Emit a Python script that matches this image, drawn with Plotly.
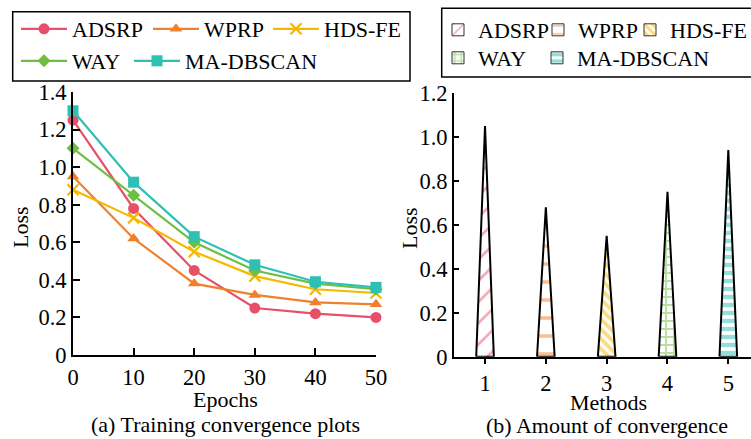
import plotly.graph_objects as go

# ---------------- data ----------------
epochs = [0, 10, 20, 30, 40, 50]
series_names = ["ADSRP", "WPRP", "HDS-FE", "WAY", "MA-DBSCAN"]
adsrp = [1.25, 0.78, 0.45, 0.25, 0.22, 0.20]
wprp = [0.95, 0.62, 0.38, 0.32, 0.28, 0.27]
hdsfe = [0.88, 0.73, 0.55, 0.42, 0.35, 0.33]
way = [1.10, 0.85, 0.60, 0.45, 0.38, 0.35]
madbscan = [1.30, 0.92, 0.63, 0.48, 0.39, 0.36]

method_ids = [1, 2, 3, 4, 5]
convergence = [1.05, 0.68, 0.55, 0.75, 0.94]

left_yticks = [0, 0.2, 0.4, 0.6, 0.8, 1.0, 1.2, 1.4]
left_yticklabels = ["0", "0.2", "0.4", "0.6", "0.8", "1.0", "1.2", "1.4"]
right_yticks = [0, 0.2, 0.4, 0.6, 0.8, 1.0, 1.2]
right_yticklabels = ["0", "0.2", "0.4", "0.6", "0.8", "1.0", "1.2"]

# ---------------- styles ----------------
W, H = 751, 439
FONT = "Liberation Serif"
FS = 22
TFS = 22.5
colors = ["#E8506A", "#F0802E", "#F5B800", "#6FBE44", "#2EC0B3"]
symbols = ["circle", "triangle-up", "x-thin", "diamond", "square"]
msizes = [11, 11, 11, 10, 11]
patterns = [
    dict(shape="/", size=15, solidity=0.18),
    dict(shape="-", size=18, solidity=0.2),
    dict(shape="\\", size=7, solidity=0.55),
    dict(shape="+", size=8, solidity=0.42),
    dict(shape="-", size=8, solidity=0.55),
]
half_w = 0.145

def px(x):
    return x / W

def py(y):
    return 1 - y / H

fig = go.Figure()

# left legend item positions (line start x, row center y)
left_leg_pos = [(21, 29), (153, 29), (273, 29), (21, 61), (134, 61)]
# right legend item positions (text start x, row center y)
right_leg_pos = [(478, 30), (578, 30), (670, 30), (478, 58), (577, 58)]

all_series = [adsrp, wprp, hdsfe, way, madbscan]
for i, (name, vals) in enumerate(zip(series_names, all_series)):
    mk = dict(symbol=symbols[i], size=msizes[i], color=colors[i])
    if symbols[i] == "x-thin":
        mk["line"] = dict(width=2.2, color=colors[i])
    fig.add_trace(go.Scatter(
        x=epochs, y=vals, name=name, mode="lines+markers",
        line=dict(color=colors[i], width=2.2), marker=mk,
        cliponaxis=False, xaxis="x", yaxis="y",
        legend="legend" if i == 0 else f"legend{i+1}",
    ))

# triangles for right chart
for i, (m, v) in enumerate(zip(method_ids, convergence)):
    pat = dict(patterns[i])
    pat.update(fgcolor=colors[i], bgcolor="white")
    fig.add_trace(go.Scatter(
        x=[m - half_w, m, m + half_w, m - half_w], y=[0, v, 0, 0],
        mode="lines", fill="toself", fillcolor="white", fillpattern=pat,
        line=dict(color="black", width=2), showlegend=False,
        xaxis="x2", yaxis="y2", hoverinfo="skip",
    ))

# legend proxies for right chart
for i, name in enumerate(series_names):
    pat = dict(patterns[i])
    pat.update(fgcolor=colors[i], bgcolor="white")
    if pat["size"] > 10:
        pat["size"] = 10
    fig.add_trace(go.Bar(
        x=[0], y=[0], name=name, xaxis="x2", yaxis="y2",
        marker=dict(color="white", pattern=pat, line=dict(color="#333333", width=1)),
        legend=f"legend{i+6}", hoverinfo="skip",
    ))

tickfont = dict(family=FONT, size=TFS, color="black")
layout = dict(
    width=W, height=H, autosize=False,
    margin=dict(l=0, r=0, t=0, b=0, autoexpand=False),
    paper_bgcolor="white", plot_bgcolor="white",
    font=dict(family=FONT, size=FS, color="black"),
    xaxis=dict(domain=[px(73), px(376)], range=[0, 50], tickvals=epochs,
               ticks="inside", ticklen=7, tickwidth=1.5, tickcolor="black",
               showline=True, linecolor="black", linewidth=2, showgrid=False,
               zeroline=False, anchor="y", ticklabelstandoff=1, automargin=False,
               tickfont=tickfont),
    yaxis=dict(domain=[py(355), py(92)], range=[0, 1.4], tickvals=left_yticks,
               ticktext=left_yticklabels, ticks="inside", ticklen=7, tickwidth=1.5,
               tickcolor="black", showline=True, linecolor="black", linewidth=2,
               showgrid=False, zeroline=False, anchor="x", automargin=False,
               tickfont=tickfont),
    xaxis2=dict(domain=[px(454), 1.0], range=[0.49, 5.373], tickvals=method_ids,
                ticks="outside", ticklen=5, tickwidth=1.5, tickcolor="black",
                showline=True, linecolor="black", linewidth=2, showgrid=False,
                zeroline=False, anchor="y2", automargin=False, tickfont=tickfont),
    yaxis2=dict(domain=[py(356.7), py(93)], range=[0, 1.2], tickvals=right_yticks,
                ticktext=right_yticklabels, ticks="inside", ticklen=5, tickwidth=1.5,
                tickcolor="black", showline=True, linecolor="black", linewidth=2,
                showgrid=False, zeroline=False, anchor="x2", automargin=False,
                tickfont=tickfont),
    bargap=0.5,
)

for i in range(5):
    key = "legend" if i == 0 else f"legend{i+1}"
    lx, ly = left_leg_pos[i]
    layout[key] = dict(x=px(lx - 5), y=py(ly), xanchor="left", yanchor="middle",
                       orientation="h", bgcolor="rgba(0,0,0,0)", borderwidth=0,
                       itemwidth=46, font=dict(family=FONT, size=FS, color="black"))
for i in range(5):
    key = f"legend{i+6}"
    lx, ly = right_leg_pos[i]
    layout[key] = dict(x=px(lx - 40), y=py(ly), xanchor="left", yanchor="middle",
                       orientation="h", bgcolor="rgba(0,0,0,0)", borderwidth=0,
                       font=dict(family=FONT, size=FS, color="black"))

fig.update_layout(**layout)

# legend boxes
fig.add_shape(type="rect", xref="paper", yref="paper",
              x0=px(12.7), x1=px(410), y0=py(81), y1=py(11.7),
              line=dict(color="black", width=1.5), fillcolor="rgba(0,0,0,0)", layer="below")
fig.add_shape(type="rect", xref="paper", yref="paper",
              x0=px(441.7), x1=px(770), y0=py(77), y1=py(8.3),
              line=dict(color="black", width=1.5), fillcolor="rgba(0,0,0,0)", layer="below")

# axis titles and captions
ann = [
    dict(text="Loss", x=px(20), y=py(227), textangle=-90),
    dict(text="Loss", x=px(409), y=py(228), textangle=-90),
    dict(text="Epochs", x=px(225), y=py(399)),
    dict(text="Methods", x=px(608), y=py(402)),
    dict(text="(a) Training convergence plots", x=px(226), y=py(424.5)),
    dict(text="(b) Amount of convergence", x=px(607), y=py(425)),
]
for a in ann:
    fig.add_annotation(xref="paper", yref="paper", showarrow=False,
                       xanchor="center", yanchor="middle",
                       font=dict(family=FONT, size=FS, color="black"), **a)

fig.write_html("out.html")
